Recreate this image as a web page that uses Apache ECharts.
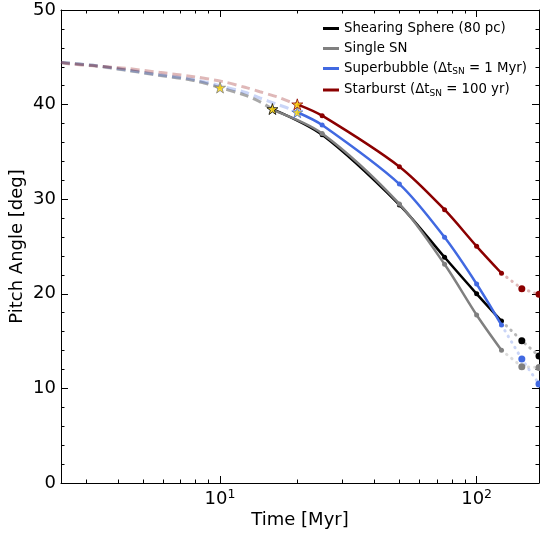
<!DOCTYPE html>
<html><head><meta charset="utf-8">
<script src="https://cdn.jsdelivr.net/npm/echarts@6/dist/echarts.min.js"></script>
<style>html,body{margin:0;padding:0;background:#fff}#c{width:540px;height:534px}</style>
</head><body><div id="c"></div>
<script>
// ---------- data ----------
const seriesNames = ['Shearing Sphere (80 pc)', 'Single SN', 'Superbubble (Δt_SN = 1 Myr)', 'Starburst (Δt_SN = 100 yr)'];
const seriesColors = ['#000000', '#808080', '#4169e1', '#8b0000'];

// early phase (faded dashed)
const blackEarlyT = [2.4, 3.2, 4.3, 5.8, 7.9, 10, 12.5, 14.3, 16];
const blackEarlyV = [44.45, 44.15, 43.65, 43.1, 42.55, 41.8, 41.0, 40.3, 39.53];
const grayEarlyT  = [2.4, 3.2, 4.3, 5.8, 7.9, 10, 12.5, 14.3, 16];
const grayEarlyV  = [44.45, 44.12, 43.62, 43.08, 42.55, 41.8, 41.0, 40.3, 39.45];
const blueEarlyT  = [2.4, 3.2, 4.3, 5.8, 7.9, 10, 12.5, 14.3, 16.6, 18.5, 20];
const blueEarlyV  = [44.45, 44.15, 43.68, 43.15, 42.65, 42.0, 41.3, 40.7, 40.05, 39.6, 39.19];
const redEarlyT   = [2.4, 2.6, 3.2, 4.3, 5.8, 7.9, 10.3, 12.5, 14.3, 16.6, 18.7, 20];
const redEarlyV   = [44.45, 44.3, 44.1, 43.83, 43.41, 42.95, 42.42, 41.83, 41.36, 40.84, 40.3, 40.03];

// main phase (solid with markers)
const blackMainT = [16, 25, 50, 75, 100, 125];
const blackMainV = [39.53, 36.8, 29.4, 23.86, 20.0, 17.12];
const grayMainT  = [16, 25, 50, 75, 100, 125];
const grayMainV  = [39.45, 36.95, 29.5, 23.12, 17.76, 14.03];
const blueMainT  = [20, 25, 50, 75, 100, 125];
const blueMainV  = [39.19, 37.84, 31.6, 25.97, 21.04, 16.7];
const redMainT   = [20, 25, 50, 75, 100, 125];
const redMainV   = [40.03, 38.83, 33.44, 28.89, 25.02, 22.17];

// late phase (faded dotted with large dots)
const lateT      = [125, 150, 175];
const blackLateV = [17.12, 15.04, 13.42];
const grayLateV  = [14.03, 12.3, 12.2];
const blueLateV  = [16.7, 13.1, 10.47];
const redLateV   = [22.17, 20.54, 19.94];

// star markers
const starT = [16, 10, 20, 20];
const starV = [39.53, 41.8, 39.19, 40.03];

// axes
const xMin = 2.4, xMax = 175;
const xMajorTicks = [10, 100];
const xMinorTicks = [3, 4, 5, 6, 7, 8, 9, 20, 30, 40, 50, 60, 70, 80, 90];
const yMin = 0, yMax = 50, yStep = 10;

// ---------- build ----------
const zip = (a, b) => a.map((v, i) => [v, b[i]]);
const early = [[blackEarlyT, blackEarlyV], [grayEarlyT, grayEarlyV], [blueEarlyT, blueEarlyV], [redEarlyT, redEarlyV]];
const main = [[blackMainT, blackMainV], [grayMainT, grayMainV], [blueMainT, blueMainV], [redMainT, redMainV]];
const late = [blackLateV, grayLateV, blueLateV, redLateV];
const FONT = 'DejaVu Sans';
const STAR = 'path://M50,0 L61.8,35.5 L99,35.5 L69,57.5 L80.5,93 L50,71 L19.5,93 L31,57.5 L1,35.5 L38.2,35.5 Z';

const series = [];
for (let i = 0; i < 4; i++) {
  series.push({
    type: 'line', name: 'early' + i, data: zip(early[i][0], early[i][1]),
    showSymbol: false, smooth: 0.3, silent: true, z: 1,
    lineStyle: { color: seriesColors[i], width: 3, type: [9, 5], opacity: 0.28 },
    itemStyle: { color: seriesColors[i] }
  });
}
for (let i = 0; i < 4; i++) {
  series.push({
    type: 'line', name: seriesNames[i],
    data: zip(main[i][0], main[i][1]).map((p, k) => k === 0 ? { value: p, symbol: 'none' } : p),
    symbol: 'circle', symbolSize: 5, smooth: 0.3, z: 3 + i,
    lineStyle: { color: seriesColors[i], width: 2.5 },
    itemStyle: { color: seriesColors[i] }
  });
}
for (let i = 0; i < 4; i++) {
  series.push({
    type: 'line', name: 'late' + i,
    data: zip(lateT, late[i]).map((p, k) => k === 0 ? { value: p, symbol: 'none' } : p),
    symbol: 'circle', symbolSize: 7, z: 2,
    lineStyle: { color: seriesColors[i], width: 3, type: [0.5, 6], cap: 'round', opacity: 0.28 },
    itemStyle: { color: seriesColors[i], opacity: 1 }
  });
}
series.push({
  type: 'scatter', name: 'stars', z: 10, symbol: STAR, symbolSize: 11,
  data: starT.map((t, i) => ({ value: [t, starV[i]], itemStyle: { color: '#ffd700', borderColor: seriesColors[i], borderWidth: 1 } }))
});

const legendText = {
  'Shearing Sphere (80 pc)': 'Shearing Sphere (80 pc)',
  'Single SN': 'Single SN',
  'Superbubble (Δt_SN = 1 Myr)': 'Superbubble (Δt{s|SN} = 1 Myr)',
  'Starburst (Δt_SN = 100 yr)': 'Starburst (Δt{s|SN} = 100 yr)'
};

const axisLine = { show: true, lineStyle: { color: '#000', width: 1 } };
const baseX = (pos, ticks, len, withLine, withLabel) => ({
  type: 'log', logBase: 10, min: xMin, max: xMax, position: pos,
  axisLine: withLine ? axisLine : { show: false },
  splitLine: { show: false }, minorTick: { show: false }, minorSplitLine: { show: false },
  axisTick: { show: true, inside: true, length: len, customValues: ticks, lineStyle: { color: '#000', width: 1 } },
  axisLabel: withLabel ? {
    show: true, customValues: xMajorTicks, margin: 5, color: '#000', fontFamily: FONT, fontSize: 18,
    formatter: v => '{b|10}{s|' + Math.round(Math.log10(v)) + '}',
    rich: { b: { fontSize: 18, fontFamily: FONT, color: '#000' }, s: { fontSize: 12.5, fontFamily: FONT, color: '#000', padding: [0, 0, 10, 0] } }
  } : { show: false }
});
const xAxes = [
  Object.assign(baseX('bottom', xMajorTicks, 7, true, true), {
    name: 'Time [Myr]', nameLocation: 'middle', nameGap: 28, nameMoveOverlap: false,
    nameTextStyle: { fontSize: 18, fontFamily: FONT, color: '#000' }
  }),
  baseX('bottom', xMinorTicks, 3.5, false, false),
  baseX('top', xMajorTicks, 7, true, false),
  baseX('top', xMinorTicks, 3.5, false, false)
];
const baseY = (pos, withLabel) => ({
  type: 'value', min: yMin, max: yMax, interval: yStep, position: pos,
  axisLine: axisLine, splitLine: { show: false },
  axisTick: { show: true, inside: true, length: 7, lineStyle: { color: '#000', width: 1 } },
  minorTick: { show: true, splitNumber: 5, length: 3.5, lineStyle: { color: '#000', width: 1 } },
  axisLabel: withLabel ? { show: true, margin: 5, color: '#000', fontFamily: FONT, fontSize: 18 } : { show: false }
});
const yAxes = [
  Object.assign(baseY('left', true), {
    name: 'Pitch Angle [deg]', nameLocation: 'middle', nameGap: 35, nameMoveOverlap: false,
    nameTextStyle: { fontSize: 18, fontFamily: FONT, color: '#000' }
  }),
  baseY('right', false)
];

const chart = echarts.init(document.getElementById('c'), null, { renderer: 'canvas' });
chart.setOption({
  animation: false,
  backgroundColor: '#fff',
  grid: { left: 61, right: 1, top: 10, bottom: 51, containLabel: false, outerBoundsMode: 'none' },
  xAxis: xAxes,
  yAxis: yAxes,
  legend: {
    data: seriesNames, orient: 'vertical', left: 318, top: 17, padding: 5, itemWidth: 16, itemHeight: 3, itemGap: 7,
    icon: 'rect', selectedMode: false,
    formatter: n => legendText[n],
    textStyle: { fontSize: 13.3, fontFamily: FONT, color: '#000',
      rich: { s: { fontSize: 9, fontFamily: FONT, color: '#000', padding: [7, 0, 0, 0] } } }
  },
  series: series
});
</script>
</body></html>
